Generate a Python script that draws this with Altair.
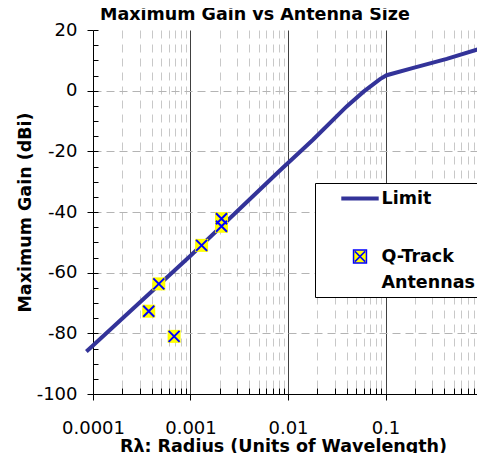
import json
import altair as alt
import pandas as pd

# ---- data ----
limit_r = [8.55e-5, 1e-4, 1e-3, 0.00826, 0.01815, 0.04, 0.0592, 0.0878, 0.1028, 0.193, 0.425, 1.0]
limit_gain = [-86.0, -84.0, -54.4, -26.3, -16.1, -5.2, -0.4, 3.8, 5.1, 7.5, 10.5, 14.1]

qtrack_r = [3.73e-4, 4.73e-4, 6.79e-4, 1.30e-3, 2.08e-3, 2.08e-3]
qtrack_gain = [-72.7, -63.7, -81.0, -51.0, -42.2, -44.7]

x_major = [1e-4, 1e-3, 1e-2, 1e-1, 1]
x_major_labels = ["0.0001", "0.001", "0.01", "0.1", "1"]
x_major_grid = [1e-3, 1e-2, 1e-1]
x_minor = [m * 10 ** e for e in range(-4, 0) for m in range(2, 10)]
y_major = [-100, -80, -60, -40, -20, 0, 20]
y_grid = [-80, -60, -40, -20, 0]
y_minor = list(range(-100, 21, 5))

# legend rows: "Limit", spacer, "Q-Track" / "Antennas" (two-line label)
legend_keys = ["Limit", " ", "Q-Track", "Antennas"]
legend_strokes = ["#333399", "#ffffff", "#0000ff", "#ffffff"]
legend_shapes = ["M-2.2,0H2.2", "M0,0",
                 "M-0.76,-0.76H0.76V0.76H-0.76Z M-0.6,-0.6L0.6,0.6 M-0.6,0.6L0.6,-0.6", "M0,0"]
legend_widths = [4, 6.3, 1.5, 0]

FONT = "DejaVu Sans"
LINE_COLOR = "#333399"
X_COLOR = "#0000ff"
SQ_COLOR = "#ffff00"

line_df = pd.DataFrame({"r": limit_r, "gain": limit_gain})
pts_df = pd.DataFrame({"r": qtrack_r, "gain": qtrack_gain})
leg_df = pd.DataFrame({"series": legend_keys})

xs = alt.Scale(type="log", domain=[1e-4, 1], range=[0, 390], nice=False)
ys = alt.Scale(domain=[-100, 20], nice=False)

label_expr = json.dumps(x_major_labels) + "[round(log(datum.value)/LN10) + 4]"


def make_legend():
    return alt.Legend(
        title=None,
        orient="none",
        legendX=222,
        legendY=153,
        direction="vertical",
        fillColor="white",
        strokeColor="black",
        padding=5,
        symbolSize=289,
        symbolOpacity=1,
        symbolOffset=28,
        labelOffset=9.5,
        rowPadding=7,
        labelFont=FONT,
        labelFontSize=17.5,
        labelFontWeight="bold",
        labelColor="black",
    )


# gridlines (minor verticals, horizontal dashed)
grid_layer = alt.Chart(line_df).mark_point(opacity=0).encode(
    x=alt.X("r:Q", scale=xs, axis=alt.Axis(orient="bottom", values=x_minor, grid=True, gridDash=[8, 6],
                                          gridColor="#c8c8c8", gridWidth=1, ticks=False, labels=False,
                                          domain=False, title=None)),
    y=alt.Y("gain:Q", scale=ys, axis=alt.Axis(orient="left", values=y_grid, grid=True, gridDash=[8, 5],
                                             gridColor="#b4b4b4", gridWidth=1, ticks=False, labels=False,
                                             domain=False, title=None)),
)

# major vertical gridlines + inner minor y ticks
grid2_layer = alt.Chart(line_df).mark_point(opacity=0).encode(
    x=alt.X("r:Q", scale=xs, axis=alt.Axis(orient="bottom", values=x_major_grid, grid=True, gridColor="#404040",
                                          gridWidth=1, ticks=False, labels=False, domain=False, title=None)),
    y=alt.Y("gain:Q", scale=ys, axis=alt.Axis(orient="left", values=y_minor, offset=-5, tickSize=5,
                                             tickColor="black", grid=False, labels=False, domain=False,
                                             title=None)),
)

# inner minor x ticks
ticks_layer = alt.Chart(line_df).mark_point(opacity=0).encode(
    x=alt.X("r:Q", scale=xs, axis=alt.Axis(orient="bottom", values=x_minor, offset=-6, tickSize=6,
                                          tickColor="black", grid=False, labels=False, domain=False,
                                          title=None)),
    y=alt.Y("gain:Q", scale=ys, axis=None),
)

line_layer = alt.Chart(line_df).mark_line(strokeWidth=4, color=LINE_COLOR).encode(
    x=alt.X("r:Q", scale=xs, axis=alt.Axis(orient="bottom", values=x_major, labelExpr=label_expr, tickSize=6,
                                          labelPadding=19, grid=False, domainColor="black", tickColor="black",
                                          labelOverlap=False, labelFlush=False,
                                          title="Rλ: Radius (Units of Wavelength)", titlePadding=0, titleX=190)),
    y=alt.Y("gain:Q", scale=ys, axis=alt.Axis(orient="left", values=y_major, labelExpr="toString(datum.value)",
                                             tickSize=6, labelPadding=10, grid=False, domainColor="black",
                                             tickColor="black", labelOverlap=False,
                                             title="Maximum Gain (dBi)", titlePadding=2)),
)

square_layer = alt.Chart(pts_df).mark_square(size=169, color=SQ_COLOR, opacity=1).encode(
    x=alt.X("r:Q", scale=xs, axis=None),
    y=alt.Y("gain:Q", scale=ys, axis=None),
)

cross_layer = alt.Chart(pts_df).mark_point(shape="M-1,-1L1,1M-1,1L1,-1", size=121, strokeWidth=2,
                                           filled=False, color=X_COLOR, opacity=1).encode(
    x=alt.X("r:Q", scale=xs, axis=None),
    y=alt.Y("gain:Q", scale=ys, axis=None),
)

# legend-only layer (its marks are invisible; it carries the legend)
legend_layer = alt.Chart(leg_df).mark_point(filled=False, fill=SQ_COLOR, opacity=0).encode(
    color=alt.Color("series:N", scale=alt.Scale(domain=legend_keys, range=legend_strokes), legend=make_legend()),
    shape=alt.Shape("series:N", scale=alt.Scale(domain=legend_keys, range=legend_shapes), legend=make_legend()),
    strokeWidth=alt.StrokeWidth("series:N",
                                scale=alt.Scale(type="ordinal", domain=legend_keys, range=legend_widths),
                                legend=make_legend()),
)

chart = (
    alt.layer(grid_layer, grid2_layer, ticks_layer, line_layer, square_layer, cross_layer, legend_layer)
    .resolve_axis(x="independent", y="independent")
    .properties(
        width=384,
        height=364,
        padding={"left": 85, "top": 22, "right": 0, "bottom": 59},
        autosize=alt.AutoSizeParams(type="none"),
        title=alt.TitleParams("Maximum Gain vs Antenna Size", anchor="start", frame="group", dx=7, offset=-2,
                              font=FONT, fontSize=17.5, fontWeight="bold", color="black"),
    )
    .configure_view(stroke=None)
    .configure_axis(labelFont=FONT, labelFontSize=18, labelColor="black", titleFont=FONT, titleFontSize=17.5,
                    titleFontWeight="bold", titleColor="black")
)

chart.save("out.html", embed_options={"renderer": "svg", "actions": False})
